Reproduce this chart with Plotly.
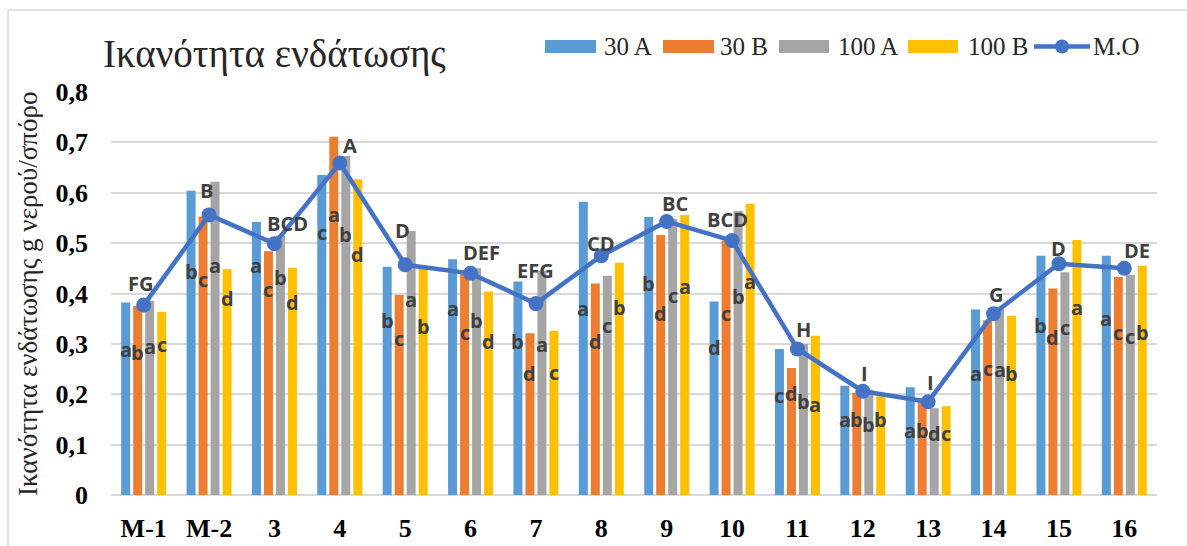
import plotly.graph_objects as go

# ---------------- data ----------------
categories = ["M-1", "M-2", "3", "4", "5", "6", "7", "8", "9", "10", "11", "12", "13", "14", "15", "16"]
series_names = ["30 A", "30 B", "100 A", "100 B"]
v_30A = [0.382, 0.604, 0.542, 0.635, 0.453, 0.468, 0.424, 0.582, 0.552, 0.384, 0.290, 0.217, 0.214, 0.368, 0.475, 0.475]
v_30B = [0.375, 0.553, 0.484, 0.711, 0.397, 0.438, 0.321, 0.420, 0.516, 0.505, 0.252, 0.203, 0.185, 0.347, 0.410, 0.433]
v_100A = [0.385, 0.622, 0.515, 0.673, 0.524, 0.450, 0.445, 0.435, 0.548, 0.564, 0.300, 0.208, 0.172, 0.369, 0.442, 0.437]
v_100B = [0.364, 0.448, 0.451, 0.627, 0.449, 0.404, 0.326, 0.461, 0.556, 0.578, 0.316, 0.196, 0.176, 0.356, 0.506, 0.455]
mean_MO = [0.377, 0.556, 0.499, 0.659, 0.457, 0.440, 0.380, 0.475, 0.543, 0.505, 0.290, 0.206, 0.185, 0.360, 0.459, 0.450]

# significance letters (per bar: 30A, 30B, 100A, 100B)
letters_lower = [
    ["a", "b", "a", "c"], ["b", "c", "a", "d"], ["a", "c", "b", "d"], ["c", "a", "b", "d"],
    ["b", "c", "a", "b"], ["a", "c", "b", "d"], ["b", "d", "a", "c"], ["a", "d", "c", "b"],
    ["b", "d", "c", "a"], ["d", "c", "b", "a"], ["c", "d", "b", "a"], ["a", "b", "b", "b"],
    ["a", "b", "d", "c"], ["a", "c", "a", "b"], ["b", "d", "c", "a"], ["a", "c", "c", "b"],
]
letters_upper = ["FG", "B", "BCD", "A", "D", "DEF", "EFG", "CD", "BC", "BCD", "H", "I", "I", "G", "D", "DE"]

# label placement (value-axis heights where the letters sit)
lower_label_y = [
    [0.288, 0.282, 0.294, 0.298], [0.443, 0.427, 0.455, 0.391], [0.455, 0.407, 0.431, 0.383],
    [0.522, 0.556, 0.518, 0.478], [0.347, 0.311, 0.389, 0.334], [0.371, 0.322, 0.347, 0.304],
    [0.304, 0.242, 0.298, 0.244], [0.371, 0.304, 0.337, 0.373], [0.420, 0.361, 0.397, 0.413],
    [0.292, 0.361, 0.395, 0.423], [0.198, 0.202, 0.185, 0.179], [0.149, 0.149, 0.139, 0.149],
    [0.129, 0.129, 0.123, 0.123], [0.242, 0.252, 0.250, 0.242], [0.337, 0.313, 0.333, 0.373],
    [0.351, 0.322, 0.315, 0.323],
]
upper_label_y = [0.420, 0.605, 0.538, 0.694, 0.526, 0.482, 0.445, 0.500, 0.579, 0.546, 0.329, 0.242, 0.224, 0.399, 0.490, 0.486]
upper_label_dx = [-3, -3, 13, 10, -3, 11, 0, 0, 8, -5, 6, 2, 2, 2, 0, 13]

# ---------------- styling ----------------
W, H = 1187, 546
ML, MR, MT, MB = 111, 30, 92, 51
colors = ["#5B9BD5", "#ED7D31", "#A5A5A5", "#FFC000"]
line_color = "#4472C4"
grid_color = "#D9D9D9"
serif = "Liberation Serif, DejaVu Serif, Times New Roman, serif"
label_font = dict(family="Open Sans, sans-serif", size=20, color="#404040", weight="bold")
BARGAP, BARGROUPGAP = 0.266, 0.25

pw, ph = W - ML - MR, H - MT - MB


def px_x(x):
    return (x - ML) / pw


def px_y(y):
    return (H - MB - y) / ph


xs = list(range(len(categories)))
all_series = [v_30A, v_30B, v_100A, v_100B]

fig = go.Figure()
for name, vals, col in zip(series_names, all_series, colors):
    fig.add_trace(go.Bar(x=xs, y=vals, name=name, marker=dict(color=col, line=dict(width=0)),
                         showlegend=False, hoverinfo="y+name"))
fig.add_trace(go.Scatter(x=xs, y=mean_MO, name="M.O", mode="lines+markers",
                         line=dict(color=line_color, width=4.5),
                         marker=dict(color=line_color, size=15), showlegend=False))

annotations = []
slot = (1 - BARGAP) / 4
offsets = [(k - 1.5) * slot for k in range(4)]
for i in xs:
    for k in range(4):
        annotations.append(dict(x=i + offsets[k], y=lower_label_y[i][k], xref="x", yref="y",
                                text=letters_lower[i][k], showarrow=False, font=label_font,
                                xanchor="center", yanchor="middle"))
    annotations.append(dict(x=i, y=upper_label_y[i], xref="x", yref="y", xshift=upper_label_dx[i],
                            text=letters_upper[i], showarrow=False, font=label_font,
                            xanchor="center", yanchor="middle"))

# title
annotations.append(dict(x=px_x(101), y=px_y(54), xref="paper", yref="paper", text="Ικανότητα ενδάτωσης",
                        showarrow=False, xanchor="left", yanchor="middle",
                        font=dict(family=serif, size=39, color="#262626")))
# y-axis title
annotations.append(dict(x=px_x(28), y=px_y(294), xref="paper", yref="paper",
                        text="Ικανότητα ενδάτωσης g νερού/σπόρο", textangle=-90, showarrow=False,
                        xanchor="center", yanchor="middle",
                        font=dict(family=serif, size=27, color="#262626")))

shapes = []
# outer chart border (top and left visible)
shapes.append(dict(type="line", xref="paper", yref="paper", x0=px_x(8), x1=px_x(W + 5),
                   y0=px_y(10), y1=px_y(10), line=dict(color=grid_color, width=1.5)))
shapes.append(dict(type="line", xref="paper", yref="paper", x0=px_x(8), x1=px_x(8),
                   y0=px_y(10), y1=px_y(H + 5), line=dict(color=grid_color, width=1.5)))

# custom legend
legend_items = [("30 A", 545, 596, 602), ("30 B", 663, 714, 718), ("100 A", 779, 829, 836), ("100 B", 908, 958, 966)]
leg_y = 46.5
for (txt, x0, x1, tx), col in zip(legend_items, colors):
    shapes.append(dict(type="rect", xref="paper", yref="paper", x0=px_x(x0), x1=px_x(x1),
                       y0=px_y(leg_y - 6.5), y1=px_y(leg_y + 6.5), fillcolor=col, line=dict(width=0)))
    annotations.append(dict(x=px_x(tx), y=px_y(leg_y), xref="paper", yref="paper", text=txt,
                            showarrow=False, xanchor="left", yanchor="middle",
                            font=dict(family=serif, size=25, color="#262626")))
shapes.append(dict(type="line", xref="paper", yref="paper", x0=px_x(1034), x1=px_x(1090),
                   y0=px_y(leg_y), y1=px_y(leg_y), line=dict(color=line_color, width=4.5)))
shapes.append(dict(type="circle", xref="paper", yref="paper", x0=px_x(1055), x1=px_x(1069),
                   y0=px_y(leg_y - 7), y1=px_y(leg_y + 7), fillcolor=line_color, line=dict(width=0)))
annotations.append(dict(x=px_x(1091), y=px_y(leg_y), xref="paper", yref="paper", text="M.O",
                        showarrow=False, xanchor="left", yanchor="middle",
                        font=dict(family=serif, size=25, color="#262626")))

fig.update_layout(
    width=W, height=H,
    margin=dict(l=ML, r=MR, t=MT, b=MB, pad=0),
    paper_bgcolor="white", plot_bgcolor="white",
    barmode="group", bargap=BARGAP, bargroupgap=BARGROUPGAP,
    separators=",.",
    showlegend=False,
    annotations=annotations,
    shapes=shapes,
    xaxis=dict(range=[-0.5, len(categories) - 0.5], tickmode="array", tickvals=xs, ticktext=categories,
               showgrid=False, zeroline=False, showline=False, ticks="", automargin=False,
               tickfont=dict(family=serif, size=26, color="#000000", weight="bold"),
               ticklabelstandoff=15),
    yaxis=dict(range=[0, 0.8], tickmode="array", tickvals=[0, 0.1, 0.2, 0.3, 0.4, 0.5, 0.6, 0.7, 0.8],
               showgrid=True, gridcolor=grid_color, gridwidth=1.5, automargin=False,
               zeroline=True, zerolinecolor=grid_color, zerolinewidth=1.5,
               showline=False, ticks="",
               tickfont=dict(family=serif, size=26, color="#000000", weight="bold"),
               ticklabelstandoff=22),
)

fig.write_html("out.html", config={"displayModeBar": False},
               post_script="document.body.style.margin='0px';")
